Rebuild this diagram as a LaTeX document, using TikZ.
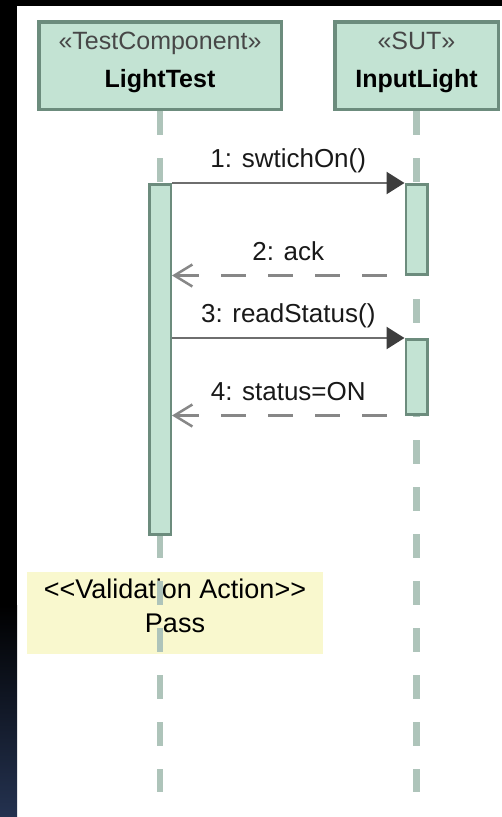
\documentclass[tikz,border=0pt]{standalone}
\usepackage{fontspec}
\setmainfont{Liberation Sans}
\usepackage{xcolor}
\usetikzlibrary{arrows.meta}

\definecolor{mint}{RGB}{195,227,211}
\definecolor{mintline}{RGB}{108,140,125}
\definecolor{lifegrey}{RGB}{174,196,186}
\definecolor{notefill}{RGB}{249,248,206}
\definecolor{edgenavy}{RGB}{36,50,80}

\pgfdeclarelayer{background}
\pgfsetlayers{background,main}

\begin{document}
\begin{tikzpicture}[x=1pt,y=-1pt,
    lifehead/.style={draw=mintline,fill=mint,line width=3.5pt,
      minimum width=242.5pt,minimum height=87.5pt,inner sep=0pt,align=center,
      font=\fontsize{25}{38}\selectfont,text depth=11pt},
    lifeline/.style={draw=lifegrey,line width=6.5pt,dash pattern=on 24pt off 23pt},
    activation/.style={draw=mintline,fill=mint,line width=2.5pt,
      minimum width=21.5pt,inner sep=0pt,anchor=north},
    call/.style={draw=black!57,line width=2.5pt,
      -{Triangle[length=18pt,width=22pt,color=black!76]}},
    reply/.style={draw=black!47,line width=2.5pt,dash pattern=on 25pt off 22pt,
      dash phase=29pt,-{Straight Barb[length=18pt,width=22pt]}},
    msglabel/.style={font=\fontsize{26}{30}\selectfont,inner sep=0pt,
      text depth=0pt,above=14pt,color=black!90},
    note/.style={fill=notefill,minimum width=296pt,minimum height=82pt,
      inner sep=0pt,align=center,font=\fontsize{27}{34}\selectfont,text depth=14pt}
  ]
    \useasboundingbox (0,0) rectangle (502,817);

    \node[lifehead] (testhead) at (160,65.5)
      {\textcolor{black!72}{«TestComponent»}\\\textbf{LightTest}};
    \node[lifehead,minimum width=163.5pt] (suthead) at (416.5,65.5)
      {\textcolor{black!72}{«SUT»}\\\textbf{InputLight}};
    \coordinate (testend) at (160,792);
    \coordinate (sutend) at (416.5,792);

    \begin{pgfonlayer}{background}
      \fill[black] (0,0) rectangle (502,817);
      \fill[white] (17,6) rectangle (502,817);
      \shade[top color=black,bottom color=edgenavy] (0,605) rectangle (17,817);
      \node[note] (verdict) at (175,613)
        {<\kern0pt<Validation Action>\kern0pt>\\Pass};
      \draw[lifeline] (testhead.south) -- (testend);
      \draw[lifeline] (suthead.south) -- (sutend);
    \end{pgfonlayer}

    \node[activation,minimum height=350pt] (testact) at (160,183) {};
    \node[activation,minimum height=90pt] (sutact1) at (416.5,183) {};
    \node[activation,minimum height=75pt] (sutact2) at (416.5,338) {};

    \draw[call] (testact.east |- sutact1.north) -- (sutact1.north west)
      node[msglabel,midway] (lblswitch) {1: swtichOn()};
    \draw[reply] (sutact1.south west) -- (testact.east |- sutact1.south)
      node[msglabel,midway] (lblack) {2: ack};
    \draw[call] (testact.east |- sutact2.north) -- (sutact2.north west)
      node[msglabel,midway] (lblread) {3: readStatus()};
    \draw[reply] (sutact2.south west) -- (testact.east |- sutact2.south)
      node[msglabel,midway] (lblstatus) {4: status=ON};
  \end{tikzpicture}
\end{document}
